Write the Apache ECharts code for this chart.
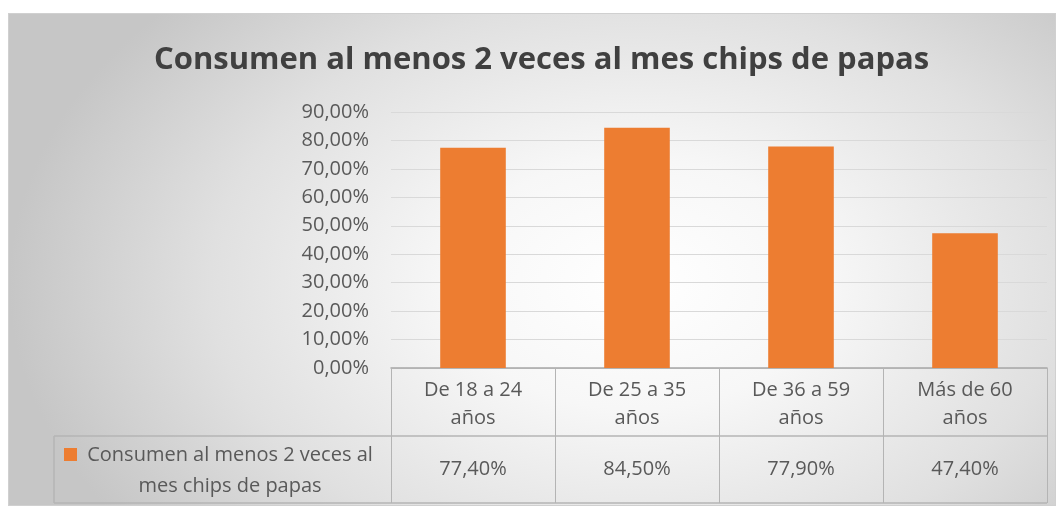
<!DOCTYPE html>
<html>
<head>
<meta charset="utf-8">
<script src="https://cdn.jsdelivr.net/npm/echarts@6/dist/echarts.min.js"></script>
<style>
  html, body { margin: 0; padding: 0; background: #fff; }
  #bg {
    position: absolute; left: 8px; top: 13px; width: 1046px; height: 491px;
    border: 1px solid #d0d0d0;
    background: radial-gradient(ellipse 60% 85% at 60% 55%, #ffffff 0%, #f7f7f7 30%, #e0e0e0 68%, #c6c6c6 100%);
  }
  #chart { position: absolute; left: 0; top: 0; width: 1062px; height: 510px; }
</style>
</head>
<body>
<div id="bg"></div>
<div id="chart"></div>
<script>
// age groups and share that eats potato chips at least twice a month
const categories = ['De 18 a 24\naños', 'De 25 a 35\naños', 'De 36 a 59\naños', 'Más de 60\naños']
const values = [77.4, 84.5, 77.9, 47.4]
const seriesName = 'Consumen al menos 2 veces al mes chips de papas'
const legendText = 'Consumen al menos 2 veces al\nmes chips de papas'
const yTicks = [0, 10, 20, 30, 40, 50, 60, 70, 80, 90]

const fmt = (v) => v.toFixed(2).replace('.', ',') + '%'

// layout (px)
const G = { left: 391, right: 1047, top: 112, bottom: 368 }
const rowMid = 436
const rowEnd = 503
const legendLeft = 54
const border = '#b4b4b4'
const textColor = '#595959'
const font = '"Open Sans", sans-serif'
const fs = 20

const chart = echarts.init(document.getElementById('chart'), null, { renderer: 'canvas' })

chart.setOption({
  backgroundColor: 'transparent',
  animation: false,
  title: {
    text: seriesName,
    left: 149,
    top: 40,
    textStyle: { color: '#404040', fontSize: 31, fontWeight: 'bold', fontFamily: font },
  },
  grid: { left: G.left, right: 1062 - G.right, top: G.top, bottom: 510 - G.bottom, containLabel: false },
  xAxis: [
    {
      type: 'category',
      data: categories,
      boundaryGap: true,
      axisLine: { lineStyle: { color: '#a6a6a6', width: 1.5 } },
      axisTick: { show: true, interval: 0, length: rowEnd - G.bottom, lineStyle: { color: border } },
      axisLabel: { color: textColor, fontSize: fs, fontFamily: font, lineHeight: 28, margin: 8, interval: 0 },
    },
    {
      type: 'category',
      data: values.map(fmt),
      position: 'bottom',
      offset: rowMid - G.bottom,
      axisLine: { show: false },
      axisTick: { show: false },
      axisLabel: { color: textColor, fontSize: fs, fontFamily: font, margin: 23, interval: 0 },
    },
  ],
  yAxis: {
    type: 'value',
    min: yTicks[0],
    max: yTicks[yTicks.length - 1],
    interval: yTicks[1] - yTicks[0],
    axisLine: { show: false },
    axisTick: { show: false },
    axisLabel: { color: textColor, fontSize: fs, fontFamily: font, margin: 22, formatter: fmt },
    splitLine: { lineStyle: { color: '#d9d9d9', width: 1 } },
  },
  series: [
    {
      name: seriesName,
      type: 'bar',
      data: values,
      barWidth: '40%',
      itemStyle: { color: '#ED7D31' },
    },
  ],
  graphic: [
    { type: 'line', shape: { x1: legendLeft, y1: rowMid, x2: G.right, y2: rowMid }, style: { stroke: border, lineWidth: 1.5 } },
    { type: 'line', shape: { x1: legendLeft, y1: rowEnd, x2: G.right, y2: rowEnd }, style: { stroke: border, lineWidth: 1.5 } },
    { type: 'line', shape: { x1: legendLeft, y1: rowMid, x2: legendLeft, y2: rowEnd }, style: { stroke: border, lineWidth: 1.5 } },
    { type: 'rect', shape: { x: 64, y: 448, width: 13, height: 13 }, style: { fill: '#ED7D31' } },
    {
      type: 'text', x: 230, y: 471,
      style: {
        text: legendText, fill: textColor, font: fs + 'px ' + font,
        align: 'center', verticalAlign: 'middle', lineHeight: 31,
      },
    },
  ],
})
</script>
</body>
</html>
